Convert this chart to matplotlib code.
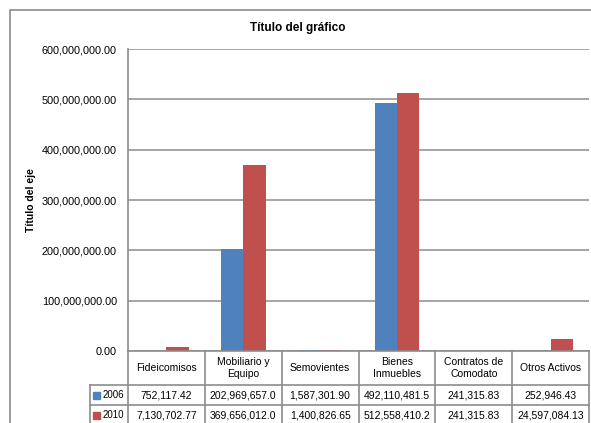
import numpy as np
import matplotlib.pyplot as plt
from matplotlib.patches import Rectangle
from matplotlib.lines import Line2D

categorias = ["Fideicomisos", "Mobiliario y\nEquipo", "Semovientes", "Bienes\nInmuebles",
              "Contratos de\nComodato", "Otros Activos"]
valores_2006 = [752117.42, 202969657.0, 1587301.90, 492110481.5, 241315.83, 252946.43]
valores_2010 = [7130702.77, 369656012.0, 1400826.65, 512558410.2, 241315.83, 24597084.13]
textos_2006 = ["752,117.42", "202,969,657.0", "1,587,301.90", "492,110,481.5", "241,315.83", "252,946.43"]
textos_2010 = ["7,130,702.77", "369,656,012.0", "1,400,826.65", "512,558,410.2", "241,315.83", "24,597,084.13"]
series = ["2006", "2010"]
colores = ["#4F81BD", "#C0504D"]
yticks = [0, 100e6, 200e6, 300e6, 400e6, 500e6, 600e6]

plt.rcParams['font.family'] = ['Liberation Sans', 'DejaVu Sans']
W, H = 591, 423
fig = plt.figure(figsize=(W / 100, H / 100), dpi=100)
gris = "#8C8C8C"


def fx(px):
    return px / W


def fy(py):
    return 1 - py / H


# borde del area del grafico
fig.patches.append(Rectangle((fx(10), fy(440)), fx(600) - fx(10), fy(10) - fy(440),
                             transform=fig.transFigure, fill=False, ec=gris, lw=1.2))

x0, x1, ytop, ybot = 128, 589, 49, 351
ax = fig.add_axes([fx(x0), fy(ybot), fx(x1) - fx(x0), fy(ytop) - fy(ybot)])
n = len(categorias)
x = np.arange(n)
w = 0.29
ax.bar(x - w / 2, valores_2006, w, color=colores[0], zorder=3)
ax.bar(x + w / 2, valores_2010, w, color=colores[1], zorder=3)
ax.set_xlim(-0.5, n - 0.5)
ax.set_ylim(0, 600e6)
ax.set_yticks(yticks)
ax.set_yticklabels([f"{v:,.2f}" for v in yticks], fontsize=7.8)
ax.tick_params(axis='y', length=0, pad=8)
ax.set_xticks([])
ax.grid(axis='y', color="#969696", lw=1.2, zorder=0)
for s in ax.spines.values():
    s.set_visible(False)
ax.spines['left'].set_visible(True)
ax.spines['left'].set_color(gris)
ax.spines['left'].set_linewidth(1.2)
ax.set_ylabel("Título del eje", fontsize=7.5, fontweight='bold')
ax.yaxis.set_label_coords(-0.2, 0.5)
fig.text(fx(298), fy(28), "Título del gráfico", ha='center', va='center',
         fontsize=8.5, fontweight='bold')

# tabla de datos
colw = (x1 - x0) / n
filas = [351, 385, 405, 425]
leg_x = 90


def linea(xa, ya, xb, yb):
    fig.lines.append(Line2D([fx(xa), fx(xb)], [fy(ya), fy(yb)], transform=fig.transFigure,
                            color=gris, lw=1.2))


for i in range(n + 1):
    linea(x0 + i * colw, filas[0], x0 + i * colw, filas[3])
linea(leg_x, filas[1], leg_x, filas[3])
linea(x0, filas[0], x1, filas[0])
for yy in filas[1:]:
    linea(leg_x, yy, x1, yy)

for i in range(n):
    cx = x0 + (i + 0.5) * colw
    fig.text(fx(cx), fy((filas[0] + filas[1]) / 2), categorias[i], ha='center', va='center',
             fontsize=7.5, linespacing=1.3)
    fig.text(fx(cx), fy((filas[1] + filas[2]) / 2), textos_2006[i], ha='center', va='center',
             fontsize=7.5)
    fig.text(fx(cx), fy((filas[2] + filas[3]) / 2), textos_2010[i], ha='center', va='center',
             fontsize=7.5)

for j, s in enumerate(series):
    cy = (filas[j + 1] + filas[j + 2]) / 2
    fig.patches.append(Rectangle((fx(93), fy(cy + 3.5)), fx(7), fy(0) - fy(7),
                                 transform=fig.transFigure, color=colores[j]))
    fig.text(fx(102.5), fy(cy), s, ha='left', va='center', fontsize=7)

fig.savefig("out.png", dpi=100)
